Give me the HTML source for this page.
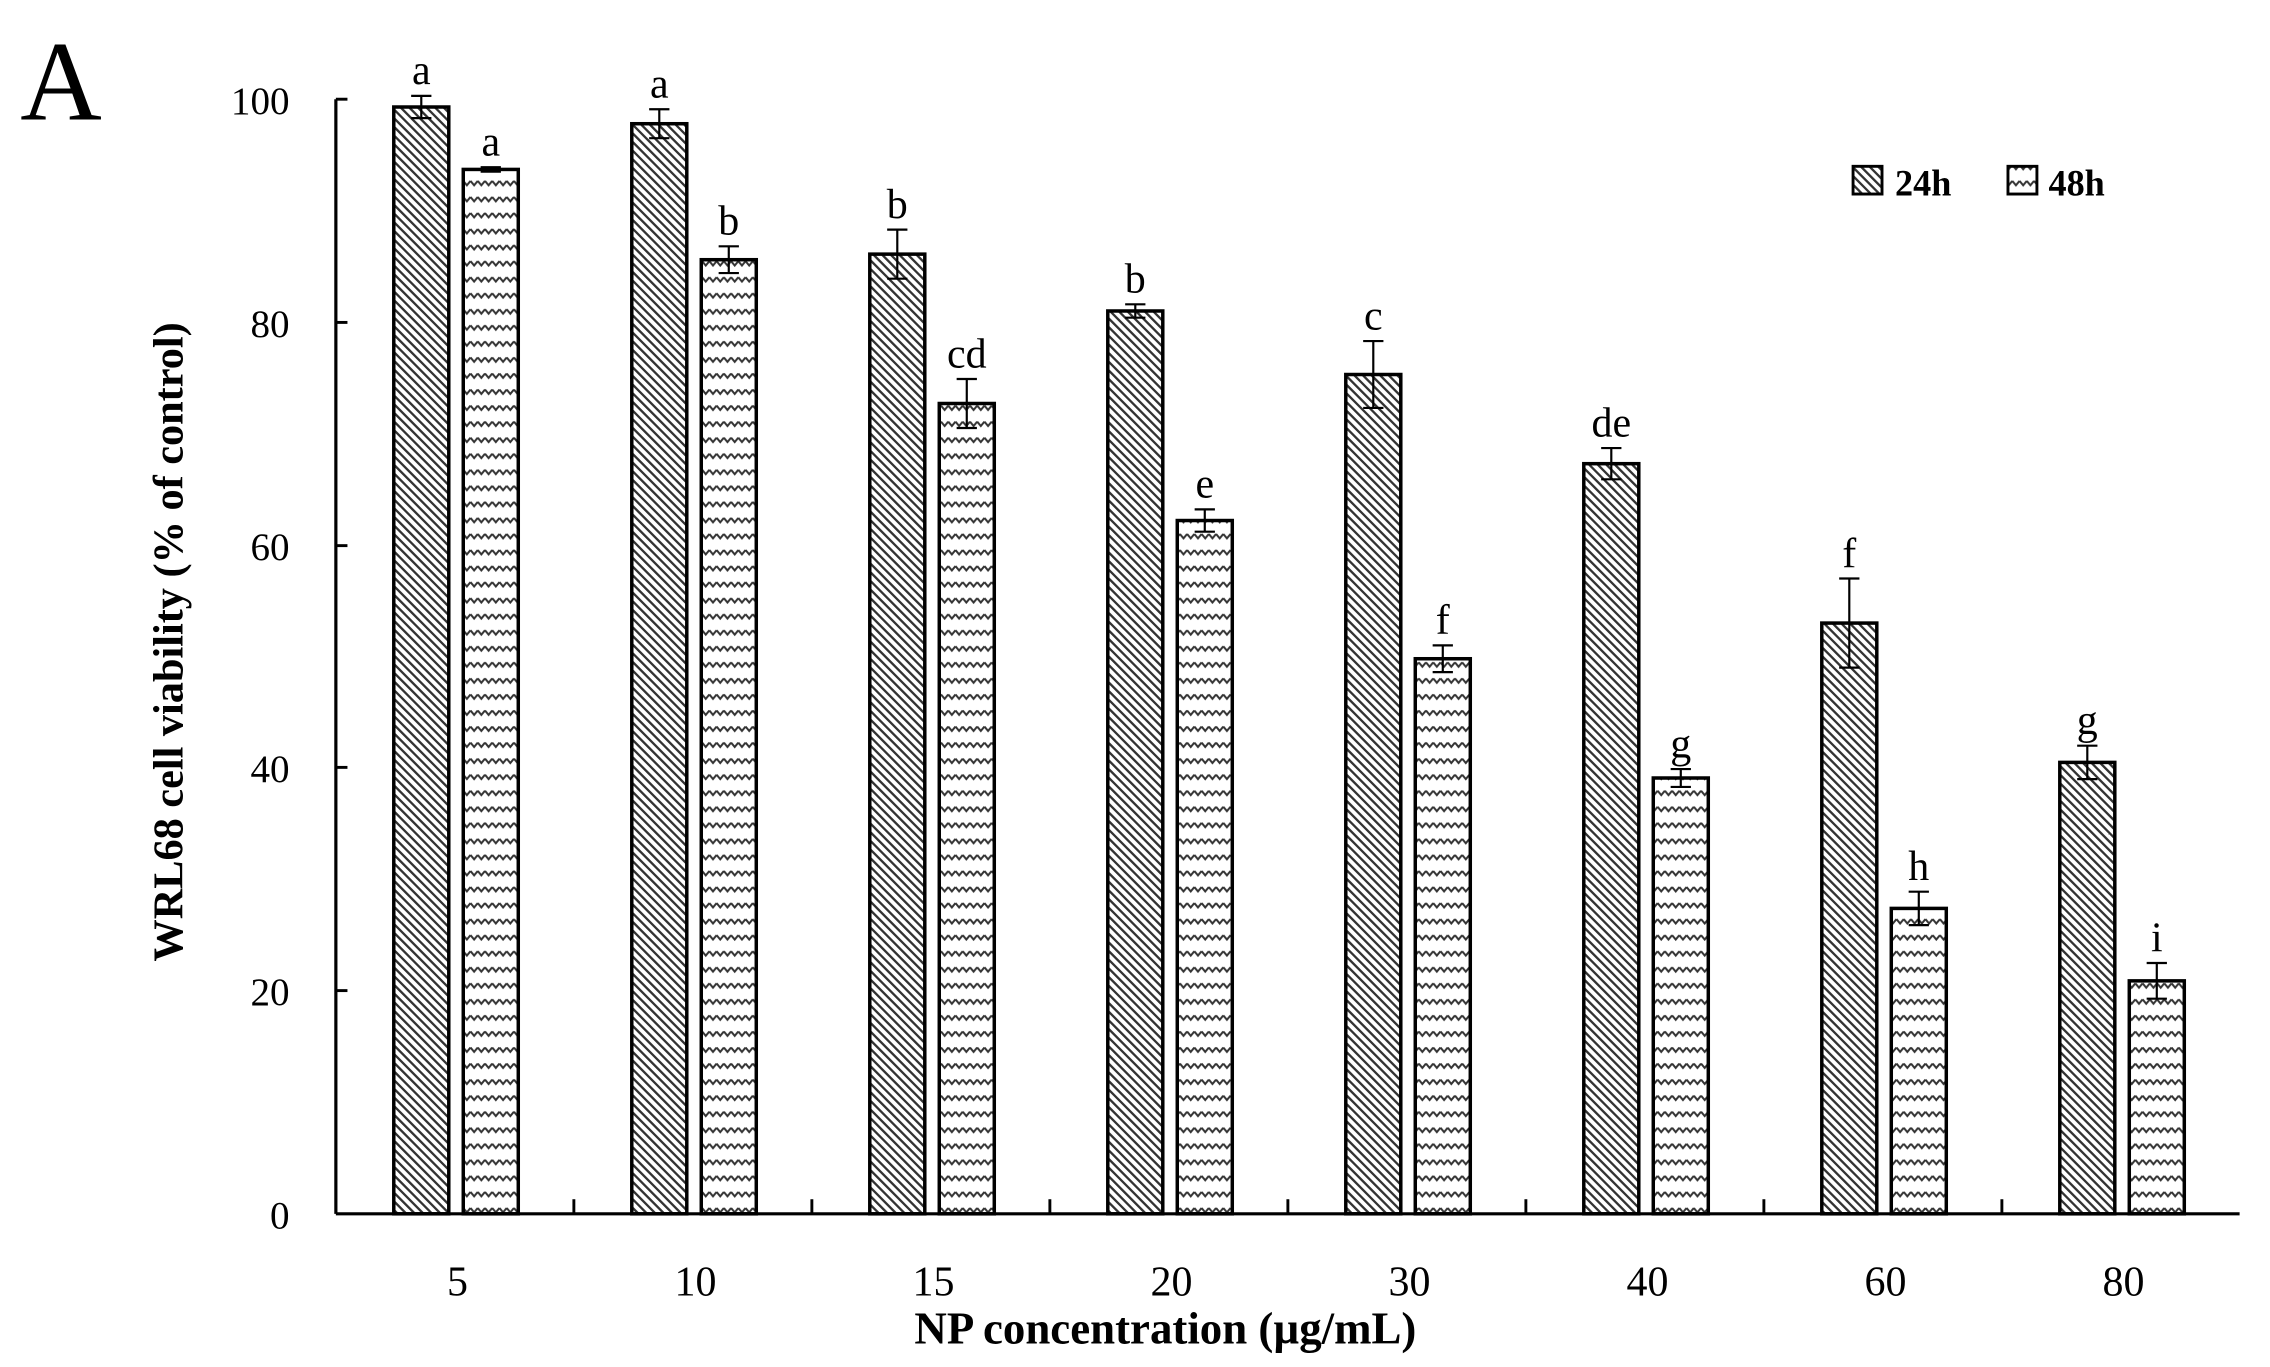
<!DOCTYPE html>
<html><head><meta charset="utf-8"><style>html,body{margin:0;padding:0;background:#fff}svg{display:block}</style></head>
<body>
<svg width="2270" height="1367" viewBox="0 0 1568 937" preserveAspectRatio="none" xmlns="http://www.w3.org/2000/svg" font-family="Liberation Serif, serif">
<defs>
<pattern id="p24" width="4.2" height="4.2" patternUnits="userSpaceOnUse" patternTransform="rotate(-45)">
<rect width="4.2" height="4.2" fill="#fff"/><rect width="1.6" height="4.2" fill="#333"/></pattern>
<pattern id="p48" width="5" height="11" patternUnits="userSpaceOnUse">
<rect width="5" height="11" fill="#fff"/><path d="M0,3 L2.5,6 L5,3" stroke="#333" stroke-width="1.4" fill="none"/></pattern>
</defs>
<text x="14" y="82" font-size="78">A</text>
<g id="chart"></g>
<line x1="232" y1="68" x2="232" y2="832" stroke="#000" stroke-width="2.2"/>
<line x1="232" y1="832" x2="1547" y2="832" stroke="#000" stroke-width="2.2"/>
<g stroke="#000" stroke-width="2">
<line x1="232" y1="68" x2="240" y2="68"/><line x1="232" y1="221" x2="240" y2="221"/><line x1="232" y1="374" x2="240" y2="374"/><line x1="232" y1="526" x2="240" y2="526"/><line x1="232" y1="679" x2="240" y2="679"/>
</g>
<g font-size="27" text-anchor="end">
<text x="200" y="78">100</text><text x="200" y="231">80</text><text x="200" y="384">60</text><text x="200" y="536">40</text><text x="200" y="689">20</text><text x="200" y="842">0</text>
</g>
<text transform="translate(126,440) rotate(-90)" font-size="29" font-weight="bold" text-anchor="middle">WRL68 cell viability (% of control)</text>
<text x="805" y="921" font-size="31" font-weight="bold" text-anchor="middle">NP concentration (µg/mL)</text>
<rect x="1280" y="114" width="20" height="19" fill="url(#p24)" stroke="#000" stroke-width="2"/>
<text x="1309" y="134" font-size="25" font-weight="bold">24h</text>
<rect x="1387" y="114" width="20" height="19" fill="url(#p48)" stroke="#000" stroke-width="2"/>
<text x="1415" y="134" font-size="25" font-weight="bold">48h</text>
<script>
(function(){
var g=document.getElementById('chart'),ns='http://www.w3.org/2000/svg';
var v1=[99.3,97.8,86.1,81,75.3,67.3,53,40.5],v2=[93.7,85.6,72.7,62.2,49.8,39.1,27.4,20.9];
var e1=[1,1.3,2.2,0.6,3,1.4,4,1.5],e2=[0.2,1.2,2.2,1,1.2,0.8,1.5,1.6];
var l1=['a','a','b','b','c','de','f','g'],l2=['a','b','cd','e','f','g','h','i'];
var labs=['5','10','15','20','30','40','60','80'];
var W=164.4,Y=function(v){return 832-v*7.64;};
function el(t,a,txt){var e=document.createElementNS(ns,t);for(var k in a)e.setAttribute(k,a[k]);if(txt)e.textContent=txt;g.appendChild(e);}
for(var i=0;i<8;i++){
 var x0=232+i*W;
 if(i>0) el('line',{x1:x0,y1:832,x2:x0,y2:822,stroke:'#000','stroke-width':2});
 [[40,v1,e1,l1,'p24'],[88,v2,e2,l2,'p48']].forEach(function(s){
  var x=x0+s[0],v=s[1][i],e=s[2][i],y=Y(v);
  el('rect',{x:x,y:y,width:38,height:832-y,fill:'url(#'+s[4]+')',stroke:'#000','stroke-width':2.4});
  var cx=x+19,yt=Y(v+e),yb=Y(v-e);
  el('line',{x1:cx,y1:yt,x2:cx,y2:yb,stroke:'#000','stroke-width':1.5});
  el('line',{x1:cx-7,y1:yt,x2:cx+7,y2:yt,stroke:'#000','stroke-width':1.5});
  el('line',{x1:cx-7,y1:yb,x2:cx+7,y2:yb,stroke:'#000','stroke-width':1.5});
  el('text',{x:cx,y:yt-8,'font-size':29,'text-anchor':'middle'},s[3][i]);
 });
 el('text',{x:x0+84,y:888,'font-size':29,'text-anchor':'middle'},labs[i]);
}
})();
</script>
</svg>
</body></html>
